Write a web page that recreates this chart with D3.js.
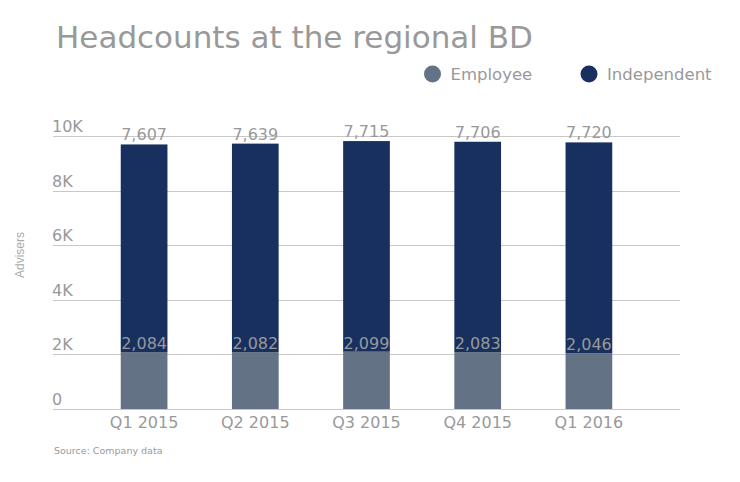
<!DOCTYPE html>
<html>
<head>
<meta charset="utf-8">
<script src="https://cdn.jsdelivr.net/npm/d3@7"></script>
<style>
  html, body { margin: 0; padding: 0; background: #fff; }
  svg { display: block; }
</style>
</head>
<body>
<svg id="chart" width="740" height="482"></svg>
<script>
const categories = ["Q1 2015", "Q2 2015", "Q3 2015", "Q4 2015", "Q1 2016"];
const employee = [2084, 2082, 2099, 2083, 2046];
const independent = [7607, 7639, 7715, 7706, 7720];
const seriesNames = ["Employee", "Independent"];
const seriesColors = ["#637285", "#18305f"];
const yTicks = [0, 2000, 4000, 6000, 8000, 10000];
const yTickLabels = ["0", "2K", "4K", "6K", "8K", "10K"];

const svg = d3.select("#chart");
const font = "DejaVu Sans, Verdana, sans-serif";
const gray = "#999999";

const x = d3.scaleBand().domain(categories).range([88.5, 644.5]).paddingInner(0.58).paddingOuter(0.29);
const y = d3.scaleLinear().domain([0, 10000]).range([409, 136]);

const rows = categories.map((c, i) => ({ cat: c, Employee: employee[i], Independent: independent[i] }));
const stack = d3.stack().keys(seriesNames)(rows);

// gridlines
svg.append("g").selectAll("line").data(yTicks).join("line")
  .attr("x1", 53).attr("x2", 680)
  .attr("y1", d => Math.round(y(d)) + 0.5).attr("y2", d => Math.round(y(d)) + 0.5)
  .attr("stroke", "#c8c8c8").attr("stroke-width", 1);

// y tick labels
svg.append("g").selectAll("text").data(yTicks).join("text")
  .attr("x", 52).attr("y", d => y(d) - 4)
  .attr("font-family", font).attr("font-size", 16).attr("fill", gray)
  .text((d, i) => yTickLabels[i]);

// bars
svg.append("g").selectAll("g").data(stack).join("g")
  .attr("fill", (d, i) => seriesColors[i])
  .selectAll("rect").data(d => d).join("rect")
  .attr("x", d => x(d.data.cat))
  .attr("width", x.bandwidth())
  .attr("y", d => y(d[1]))
  .attr("height", d => y(d[0]) - y(d[1]));

// value labels
const fmt = d3.format(",");
stack.forEach((s, si) => {
  svg.append("g").selectAll("text").data(s).join("text")
    .attr("x", d => x(d.data.cat) + x.bandwidth() / 2)
    .attr("y", d => si === 0 ? y(d[1]) - 3 : y(d[1]) - 4)
    .attr("text-anchor", "middle")
    .attr("font-family", font).attr("font-size", 16).attr("fill", gray)
    .text(d => fmt(d[1] - d[0]));
});

// x axis labels
svg.append("g").selectAll("text").data(categories).join("text")
  .attr("x", d => x(d) + x.bandwidth() / 2)
  .attr("y", 428)
  .attr("text-anchor", "middle")
  .attr("font-family", font).attr("font-size", 16).attr("fill", gray)
  .text(d => d);

// y axis title
svg.append("text")
  .attr("transform", "translate(24,255) rotate(-90)")
  .attr("text-anchor", "middle")
  .attr("font-family", "Liberation Sans, Arial, sans-serif").attr("font-size", 12).attr("fill", "#aaaaaa")
  .text("Advisers");

// title
svg.append("text")
  .attr("x", 56).attr("y", 48)
  .attr("font-family", font).attr("font-size", 31).attr("fill", gray)
  .text("Headcounts at the regional BD");

// legend
const legendX = [432.5, 589];
seriesNames.forEach((n, i) => {
  svg.append("circle").attr("cx", legendX[i]).attr("cy", 74).attr("r", 8.5).attr("fill", seriesColors[i]);
  svg.append("text").attr("x", legendX[i] + 18).attr("y", 80)
    .attr("font-family", font).attr("font-size", 16.5).attr("fill", gray)
    .text(n);
});

// source
svg.append("text")
  .attr("x", 54).attr("y", 454)
  .attr("font-family", font).attr("font-size", 9.5).attr("fill", gray)
  .text("Source: Company data");
</script>
</body>
</html>
